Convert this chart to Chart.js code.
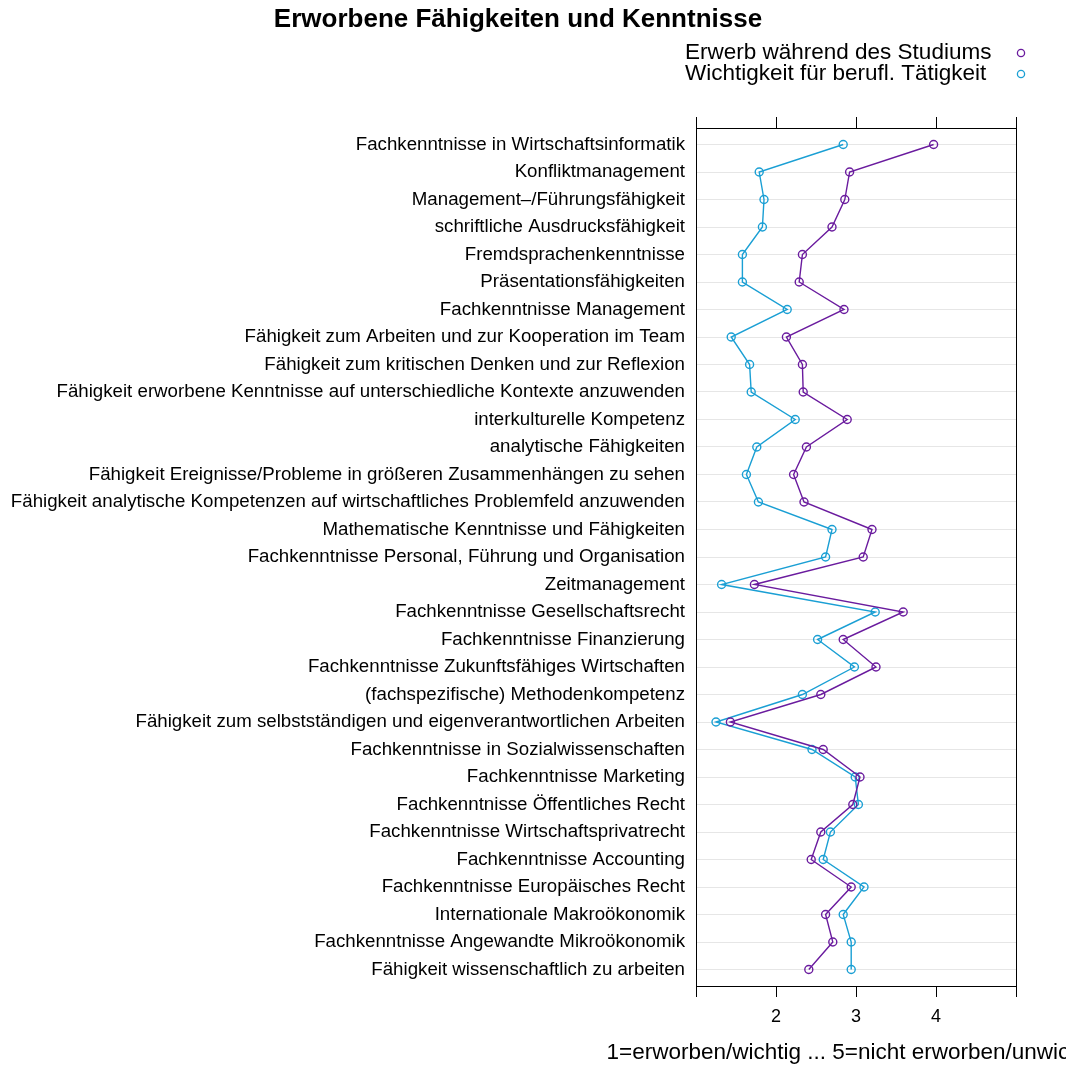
<!DOCTYPE html>
<html><head><meta charset="utf-8">
<script src="https://cdn.jsdelivr.net/npm/chart.js@4"></script>
<style>html,body{margin:0;padding:0;background:#fff;overflow:hidden}</style>
</head><body>
<canvas id="c" width="1066" height="1065"></canvas>
<script>
const categories = [
  "Fachkenntnisse in Wirtschaftsinformatik",
  "Konfliktmanagement",
  "Management\u2013/Führungsfähigkeit",
  "schriftliche Ausdrucksfähigkeit",
  "Fremdsprachenkenntnisse",
  "Präsentationsfähigkeiten",
  "Fachkenntnisse Management",
  "Fähigkeit zum Arbeiten und zur Kooperation im Team",
  "Fähigkeit zum kritischen Denken und zur Reflexion",
  "Fähigkeit erworbene Kenntnisse auf unterschiedliche Kontexte anzuwenden",
  "interkulturelle Kompetenz",
  "analytische Fähigkeiten",
  "Fähigkeit Ereignisse/Probleme in größeren Zusammenhängen zu sehen",
  "Fähigkeit analytische Kompetenzen auf wirtschaftliches Problemfeld anzuwenden",
  "Mathematische Kenntnisse und Fähigkeiten",
  "Fachkenntnisse Personal, Führung und Organisation",
  "Zeitmanagement",
  "Fachkenntnisse Gesellschaftsrecht",
  "Fachkenntnisse Finanzierung",
  "Fachkenntnisse Zukunftsfähiges Wirtschaften",
  "(fachspezifische) Methodenkompetenz",
  "Fähigkeit zum selbstständigen und eigenverantwortlichen Arbeiten",
  "Fachkenntnisse in Sozialwissenschaften",
  "Fachkenntnisse Marketing",
  "Fachkenntnisse Öffentliches Recht",
  "Fachkenntnisse Wirtschaftsprivatrecht",
  "Fachkenntnisse Accounting",
  "Fachkenntnisse Europäisches Recht",
  "Internationale Makroökonomik",
  "Fachkenntnisse Angewandte Mikroökonomik",
  "Fähigkeit wissenschaftlich zu arbeiten"
];
const erwerb = [3.97, 2.92, 2.86, 2.70, 2.33, 2.29, 2.85, 2.13, 2.33, 2.34,
  2.89, 2.38, 2.22, 2.35, 3.20, 3.09, 1.73, 3.59, 2.84, 3.25,
  2.56, 1.43, 2.59, 3.05, 2.96, 2.56, 2.44, 2.94, 2.62, 2.71, 2.41];
const wichtigkeit = [2.84, 1.79, 1.85, 1.83, 1.58, 1.58, 2.14, 1.44, 1.67, 1.69,
  2.24, 1.76, 1.63, 1.78, 2.70, 2.62, 1.32, 3.24, 2.52, 2.98,
  2.33, 1.25, 2.45, 2.99, 3.03, 2.68, 2.59, 3.10, 2.84, 2.94, 2.94];
const seriesNames = ["Erwerb während des Studiums", "Wichtigkeit für berufl. Tätigkeit"];
const xTicks = [1, 2, 3, 4, 5];
const xTickLabels = ["", "2", "3", "4", ""];
const chartTitle = "Erworbene Fähigkeiten und Kenntnisse";
const xTitle = "1=erworben/wichtig ... 5=nicht erworben/unwichtig";

const PURPLE = "#6a1b9e";
const CYAN = "#1a9fd4";
const FONT = "'Liberation Sans', Arial, Helvetica, sans-serif";
Chart.defaults.font.family = FONT;

function toPoints(vals) { return vals.map((v, i) => ({ x: v, y: i })); }

const decor = {
  id: 'decor',
  beforeDatasetsDraw(chart) {
    const { ctx, chartArea: a } = chart;
    ctx.save();
    ctx.strokeStyle = '#000';
    ctx.lineWidth = 1;
    ctx.strokeRect(Math.round(a.left) + 0.5, Math.round(a.top) + 0.5,
      Math.round(a.right - a.left), Math.round(a.bottom - a.top));
    ctx.restore();
  },
  afterDraw(chart) {
    const { ctx, chartArea: a } = chart;
    ctx.save();
    ctx.fillStyle = '#000';
    ctx.textBaseline = 'middle';
    ctx.textAlign = 'center';
    ctx.font = "bold 26px " + FONT;
    ctx.fillText(chartTitle, 518, 20);
    ctx.font = "22.5px " + FONT;
    ctx.textAlign = 'left';
    const cols = [PURPLE, CYAN];
    const ys = [53, 74];
    seriesNames.forEach((n, i) => {
      ctx.fillStyle = '#000';
      ctx.fillText(n, 685, ys[i]);
      ctx.beginPath();
      ctx.arc(1021, ys[i], 3.6, 0, Math.PI * 2);
      ctx.strokeStyle = cols[i];
      ctx.lineWidth = 1.3;
      ctx.stroke();
    });
    ctx.fillStyle = '#000';
    ctx.textAlign = 'center';
    ctx.fillText(xTitle, (a.left + a.right) / 2, 1053);
    ctx.restore();
  }
};

const xGrid = { drawOnChartArea: false, drawTicks: true, tickLength: 11, tickColor: '#000', tickWidth: 1 };

new Chart(document.getElementById('c'), {
  type: 'scatter',
  data: {
    datasets: [
      { label: seriesNames[0], data: toPoints(erwerb), showLine: true,
        borderColor: PURPLE, borderWidth: 1.4, pointBorderColor: PURPLE,
        pointBackgroundColor: 'rgba(0,0,0,0)', pointRadius: 4, pointBorderWidth: 1.4, pointHoverRadius: 4 },
      { label: seriesNames[1], data: toPoints(wichtigkeit), showLine: true,
        borderColor: CYAN, borderWidth: 1.4, pointBorderColor: CYAN,
        pointBackgroundColor: 'rgba(0,0,0,0)', pointRadius: 4, pointBorderWidth: 1.4, pointHoverRadius: 4 }
    ]
  },
  options: {
    responsive: false,
    animation: false,
    layout: { padding: { left: 0, right: 50, top: 0, bottom: 0 } },
    plugins: { legend: { display: false }, title: { display: false }, tooltip: { enabled: false } },
    scales: {
      x: {
        type: 'linear', position: 'bottom', min: 1, max: 5,
        afterBuildTicks: s => { s.ticks = xTicks.map(v => ({ value: v })); },
        afterFit: s => { s.height = 1065 - 986; },
        ticks: { padding: 9, color: '#000', font: { size: 18 },
          callback: v => xTickLabels[xTicks.indexOf(v)] },
        grid: xGrid,
        border: { display: false }
      },
      x2: {
        type: 'linear', position: 'top', min: 1, max: 5,
        afterBuildTicks: s => { s.ticks = xTicks.map(v => ({ value: v })); },
        afterFit: s => { s.height = 128; },
        ticks: { display: false },
        grid: xGrid,
        border: { display: false }
      },
      y: {
        type: 'linear', position: 'left', reverse: true, min: -0.6, max: 30.6,
        afterBuildTicks: s => { s.ticks = categories.map((_, i) => ({ value: i })); },
        afterFit: s => { s.width = 696; },
        ticks: { autoSkip: false, padding: 11, color: '#000', font: { size: 18.7 },
          callback: v => categories[v] ?? '' },
        grid: { color: '#e6e6e6', drawTicks: false, lineWidth: 1 },
        border: { display: false }
      }
    }
  },
  plugins: [decor]
});
</script>
</body></html>
